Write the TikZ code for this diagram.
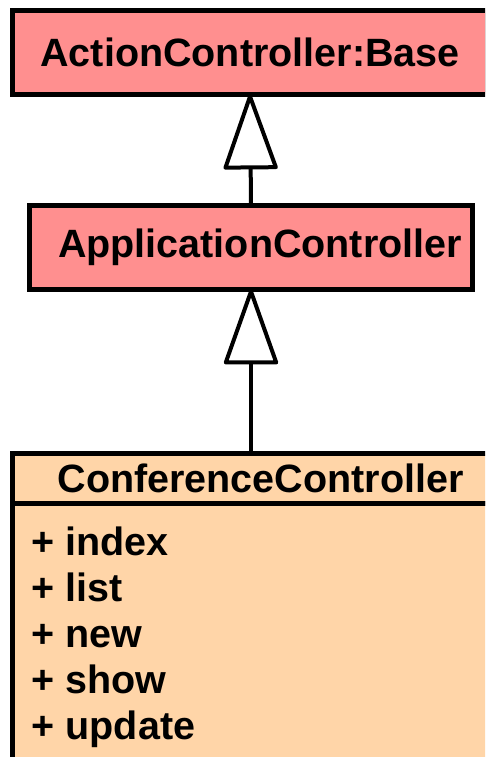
\documentclass[tikz,border=0pt]{standalone}
\usepackage{fontspec}
\setmainfont{Liberation Sans}
\usetikzlibrary{arrows.meta,positioning}
\definecolor{ctrlpink}{RGB}{255,143,143}
\definecolor{ctrlpeach}{RGB}{255,213,168}
\tikzset{
  classbox/.style={draw, line width=5pt, inner sep=0pt, outer sep=0pt,
    font=\fontsize{39.5}{46}\selectfont\bfseries},
  opline/.style={anchor=base west, inner sep=0pt,
    font=\fontsize{39.5}{46}\selectfont\bfseries},
  inherits/.style={-{Triangle[open, round, length=79pt, width=55pt]}, line width=4pt},
}
\begin{document}
\begin{tikzpicture}[x=1pt, y=-1pt]
  \path[use as bounding box, clip] (0,0) rectangle (485,757);
  % class boxes
  \node[classbox, fill=ctrlpink, minimum width=475pt, minimum height=84pt]
    (base) at (250,52.5) {ActionController:Base};
  \node[classbox, fill=ctrlpink, minimum width=443pt, minimum height=84pt]
    (app) at (251,247.5) {\hspace*{18pt}ApplicationController};
  \node[classbox, fill=ctrlpeach, minimum width=496pt, minimum height=50pt]
    (conf) at (260.5,478.5) {ConferenceController};
  \node[classbox, fill=ctrlpeach, minimum width=496pt, minimum height=300pt,
    anchor=north] (confops) at (conf.south) {};
  % operations
  \node[opline] (index) at (31.5,555) {+ index};
  \node[opline] (list) at (31.5,601) {+ list};
  \node[opline] (new) at (31.5,647) {+ new};
  \node[opline] (show) at (31.5,693) {+ show};
  \node[opline] (update) at (31.5,739) {+ update};
  % generalisation
  \draw[inherits] (app.north) -- (base.south);
  \draw[inherits] (app.south |- conf.north) -- (app.south);
\end{tikzpicture}
\end{document}
